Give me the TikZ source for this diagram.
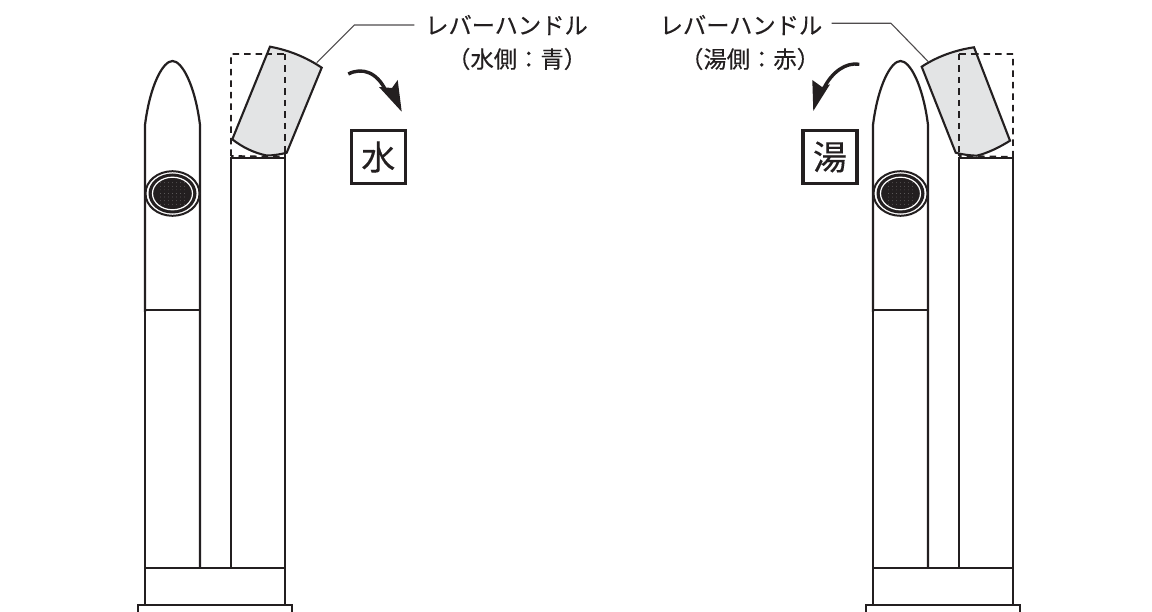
\documentclass[tikz,border=0pt]{standalone}
\usepackage{fontspec}
\setmainfont{Noto Sans CJK JP}[FakeBold=0.25]
\definecolor{ink}{HTML}{231F20}
\definecolor{handlegray}{HTML}{E3E4E5}
\tikzset{
  outline/.style={draw=ink,line width=2.2pt,line join=miter},
  thinline/.style={draw=ink,line width=2pt},
  dashline/.style={draw=ink,line width=1.9pt,dash pattern=on 6.5pt off 5pt},
  handle/.style={draw=ink,line width=2.1pt,fill=handlegray,line join=miter},
  leader/.style={draw=ink!80,line width=1.1pt},
  swing/.style={draw=ink,line width=3.4pt},
  tiphead/.style={fill=ink,draw=none},
  label/.style={inner sep=0pt,text=ink,font=\fontsize{23.3}{23.3}\selectfont,anchor=center},
  signbox/.style={draw=ink,line width=3.2pt,minimum width=54pt,minimum height=53pt,inner sep=0pt,text=ink,font=\fontsize{34}{34}\selectfont}
}
\newcommand{\faucetbody}{%
  \draw[outline] (145,312) -- (145,125) .. controls (150,85) and (163,61) .. (172.5,61) .. controls (182,61) and (195,85) .. (200,125) -- (200,568);
  \draw[thinline] (145,310) -- (200,310);
  \draw[outline] (145,310) -- (145,605);
  \draw[outline] (231,568) -- (231,158) -- (285,158) -- (285,605);
  \draw[outline] (145,568) -- (285,568);
  \draw[outline] (138,614) -- (138,605) -- (292,605) -- (292,614);
  \fill[white] (172.5,193.5) ellipse [x radius=27.5,y radius=22.5];
  \draw[thinline] (172.5,193.5) ellipse [x radius=27,y radius=22.3];
  \fill[ink] (172.5,193.5) ellipse [x radius=24,y radius=20];
  \draw[white,line width=1.2pt] (172.5,193.5) ellipse [x radius=20,y radius=16.3];
  \foreach \i in {-3,...,3}{\foreach \j in {-3,...,3}{
    \fill[ink!60] (172.5+4*\i,193.5+3.6*\j) circle [radius=0.35];}}
  \draw[dashline] (231,156) -- (231,54) -- (285,54) -- (285,157) -- cycle;
}
\begin{document}
\begin{tikzpicture}[x=1pt,y=-1pt]
\useasboundingbox (0,0) rectangle (1152,612);
\fill[white] (0,0) rectangle (1152,612);
% left faucet
\begin{scope}\faucetbody\end{scope}
\path[handle] (270,46.7) .. controls (288,50) and (306,57) .. (321.7,67.7) -- (286.7,152.7) .. controls (280,154.5) and (273,155.5) .. (266.7,155.5) .. controls (254,153) and (242,147) .. (232.3,139.3) -- cycle;
\begin{scope}
\clip (270,46.7) .. controls (288,50) and (306,57) .. (321.7,67.7) -- (286.7,152.7) -- (266.7,155.5) -- (232.3,139.3) -- cycle;
\draw[dashline] (285,54) -- (285,157);
\draw[dashline] (231,54) -- (285,54);
\end{scope}
\coordinate (lh) at (316.7,62.7);
\coordinate (lk) at (354.3,25);
\coordinate (llend) at (414.3,25);
\node[label,anchor=west] (ltitle) at (425,25) {レバーハンドル};
\node[label,anchor=west] (lsub) at (447,59) {（水側：青）};
\draw[leader] (lh) -- (lk) -- (llend);
\coordinate (las) at (348.3,74);
\coordinate (lae) at (386,91);
\coordinate (lat) at (401.7,111.7);
\draw[swing] (las) .. controls (362,67) and (377,72) .. (lae);
\fill[tiphead] (379,87) -- (lat) -- (397.7,80) -- (392,88) -- cycle;
\node[signbox] (lsign) at (378.3,157) {水};
% right faucet
\begin{scope}[xshift=728pt]\faucetbody\end{scope}
\path[handle] (921.7,66.7) .. controls (938,56) and (956,50) .. (974,47.3) -- (1010,140.7) .. controls (1000,147) and (988,153) .. (976.7,155.7) .. controls (970,155.5) and (962,154.5) .. (955.7,152.7) -- cycle;
\begin{scope}
\clip (921.7,66.7) .. controls (938,56) and (956,50) .. (974,47.3) -- (1010,140.7) -- (976.7,155.7) -- (955.7,152.7) -- cycle;
\draw[dashline] (959,54) -- (959,157);
\draw[dashline] (959,54) -- (1013,54);
\end{scope}
\coordinate (rh) at (928.3,61.7);
\coordinate (rk) at (891,23.3);
\node[label,anchor=east] (rtitle) at (822.5,25) {レバーハンドル};
\node[label,anchor=west] (rsub) at (680,59) {（湯側：赤）};
\coordinate (rlend) at (831.7,23.3);
\draw[leader] (rh) -- (rk) -- (rlend);
\coordinate (ras) at (859.3,64.3);
\coordinate (rae) at (824,88);
\coordinate (rat) at (813.3,111);
\draw[swing] (ras) .. controls (846,62) and (832,72) .. (rae);
\fill[tiphead] (812.3,80) -- (rat) -- (830,84.3) -- (822,87) -- cycle;
\node[signbox] (rsign) at (830,157) {湯};
\end{tikzpicture}
\end{document}
